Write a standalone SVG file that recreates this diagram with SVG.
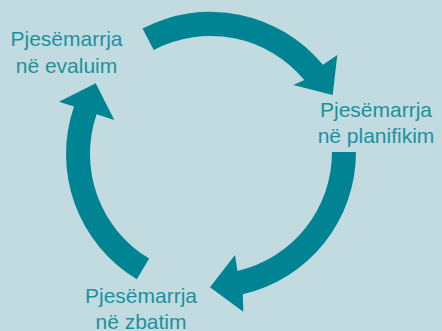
<svg xmlns="http://www.w3.org/2000/svg" width="442" height="331" viewBox="0 0 442 331">
<style>
.arrow{fill:#008494;stroke:none}
.lbl{font-family:"Liberation Sans",Arial,sans-serif;font-size:21px;fill:#1a929e;text-anchor:middle}
</style>
<rect x="0" y="0" width="442" height="331" fill="#c1dbe1"/>
<g id="connectors">
<path id="arrow-top" class="arrow" d="M142.5,28.6 A146,146 0 0 1 322.9,64.8 L337.3,55 L332.7,95 L293.3,85 L304.4,80.1 A122,122 0 0 0 153.7,49.9 Z"/>
<path id="arrow-right" class="arrow" d="M356,152 A146,146 0 0 1 242.8,294.3 L243.3,311.7 L210,287.3 L235,255 L237.4,270.9 A122,122 0 0 0 332,152 Z"/>
<path id="arrow-left" class="arrow" d="M136.8,279.2 A146,146 0 0 1 74,106.5 L59,101.7 L95.7,83.3 L114.3,120 L96.6,114.3 A122,122 0 0 0 149.2,258.6 Z"/>
</g>
<g id="node-evaluim">
<text class="lbl" x="66.5" y="46">Pjesëmarrja</text>
<text class="lbl" x="66.5" y="73">në evaluim</text>
</g>
<g id="node-planifikim">
<text class="lbl" x="376" y="117">Pjesëmarrja</text>
<text class="lbl" x="376" y="143">në planifikim</text>
</g>
<g id="node-zbatim">
<text class="lbl" x="141" y="303">Pjesëmarrja</text>
<text class="lbl" x="141" y="328.5">në zbatim</text>
</g>
</svg>
